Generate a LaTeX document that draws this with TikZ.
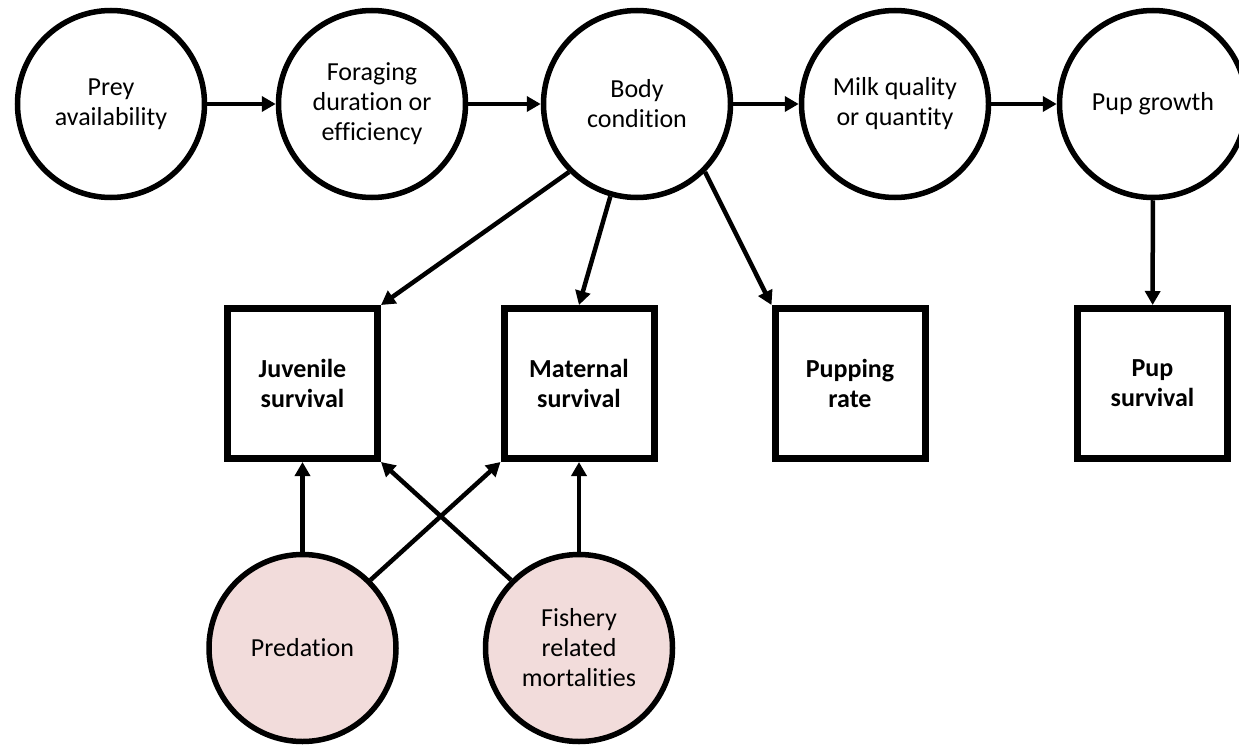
\documentclass[tikz,border=0pt]{standalone}
\usepackage{fontspec}
\setmainfont{Carlito}[Ligatures=NoCommon]
\usetikzlibrary{arrows.meta}
\definecolor{riskfill}{HTML}{F2DCDB}
\begin{document}
\begin{tikzpicture}[x=1pt,y=-1pt,
  every node/.style={font=\fontsize{26}{30}\selectfont, align=center},
  state/.style={circle, draw=black, line width=5.5pt, minimum size=187pt, inner sep=0pt, fill=white},
  risk/.style={state, fill=riskfill},
  rate/.style={rectangle, draw=black, line width=7pt, minimum width=150pt, minimum height=150pt, inner sep=0pt, fill=white, font=\fontsize{26}{30}\selectfont\bfseries},
  link/.style={line width=4.5pt, -{Triangle[length=14pt,width=15pt]}}
]
\useasboundingbox (0,0) rectangle (1239,744);
\fill[white] (0,0) rectangle (1239,744);

% top chain of processes
\node[state] (prey)   at (111,104)  {Prey\\availability};
\node[state] (forage) at (372,104)  {Foraging\\duration or\\efficiency};
\node[state] (body)   at (637,104)  {Body\\condition};
\node[state] (milk)   at (895,104)  {Milk quality\\or quantity};
\node[state] (growth) at (1153,104) {Pup growth};

% vital rates
\node[rate] (juv) at (302.5,383.5) {Juvenile\\survival};
\node[rate] (mat) at (579,383.5)   {Maternal\\survival};
\node[rate] (pupr) at (850,383.5)  {Pupping\\rate};
\node[rate] (pups) at (1152.5,383.5) {Pup\\survival};

% external mortality sources
\node[risk] (pred) at (302.5,648) {Predation};
\node[risk] (fish) at (579,648)   {Fishery\\related\\mortalities};

% connectors
\draw[link] (prey) -- (forage);
\draw[link] (forage) -- (body);
\draw[link] (body) -- (milk);
\draw[link] (milk) -- (growth);
\draw[link] (body.225) -- (juv.north east);
\draw[link] (body) -- (mat.north);
\draw[link] (body.-45) -- (pupr.north west);
\draw[link] (growth) -- (pups);
\draw[link] (pred) -- (juv);
\draw[link] (fish) -- (mat);
\draw[link] (pred.45) -- (mat.south west);
\draw[link] (fish.135) -- (juv.south east);
\end{tikzpicture}
\end{document}
